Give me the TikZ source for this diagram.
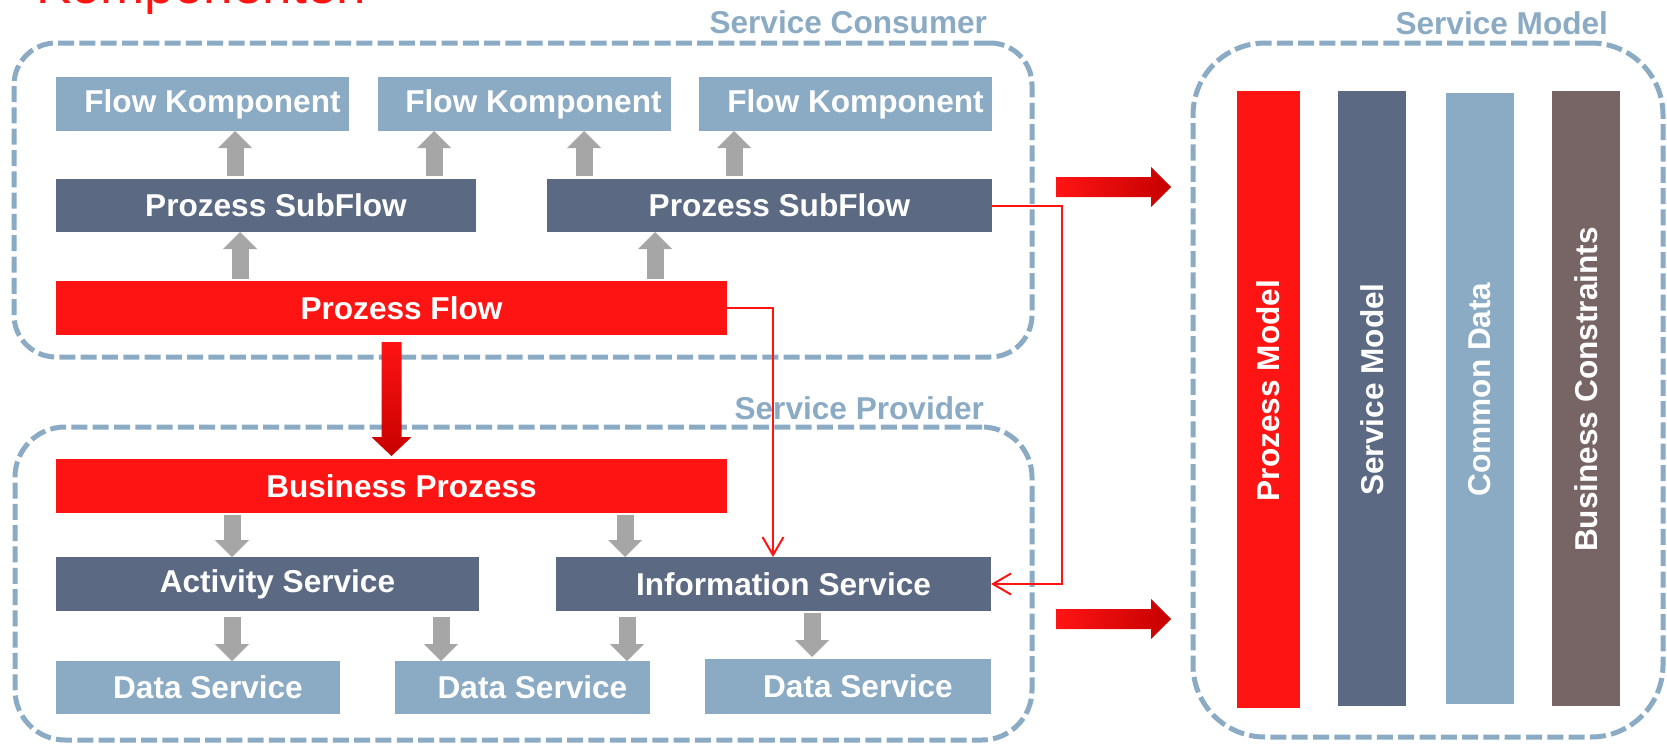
\documentclass[tikz,border=0pt]{standalone}
\usepackage{fontspec}
\setmainfont{Liberation Sans}
\usetikzlibrary{arrows.meta,calc}
\definecolor{cred}{RGB}{255,20,20}
\definecolor{cdark}{RGB}{198,0,0}
\definecolor{cslate}{RGB}{91,106,130}
\definecolor{clight}{RGB}{139,170,196}
\definecolor{cbrown}{RGB}{119,100,100}
\definecolor{cgray}{RGB}{166,166,166}
\begin{document}
\begin{tikzpicture}[x=1pt,y=-1pt,
  every node/.style={inner sep=0pt, outer sep=0pt},
  box/.style={rectangle, fill=#1, anchor=north west},
  lbl/.style={text=white, font=\fontsize{31.6pt}{38pt}\selectfont\bfseries},
  frame/.style={rectangle, draw=clight, line width=5pt, dash pattern=on 16pt off 5.3pt, anchor=north west},
  flbl/.style={text=clight, font=\fontsize{31.6pt}{38pt}\selectfont\bfseries, anchor=base east},
  garrow/.style={draw=cgray, line width=17pt, -{Triangle[length=17pt,width=34pt,line width=0pt]}},
  rline/.style={draw=cred, line width=2pt, -{Straight Barb[length=18pt,width=21pt]}}]
\useasboundingbox (0,0) rectangle (1667,744);

% title (cut off at the top)
\node[anchor=base west, text=cred, font=\fontsize{53pt}{60pt}\selectfont] (title) at (36,4) {Komponenten};

% frames
\node[frame, rounded corners=42pt, minimum width=1018pt, minimum height=314pt] (consumer) at (14,43) {};
\node[frame, rounded corners=50pt, minimum width=1017pt, minimum height=313pt] (provider) at (15,427) {};
\node[frame, rounded corners=72pt, minimum width=470pt, minimum height=694pt] (model) at (1193,43) {};
\node[flbl] (consumerl) at (987,33) {Service Consumer};
\node[flbl] (providerl) at (984,419) {Service Provider};
\node[flbl] (modell) at (1608,34) {Service Model};

% consumer boxes
\node[box=clight, minimum width=293pt, minimum height=54pt] (fk1) at (56,77) {};
\node[box=clight, minimum width=293pt, minimum height=54pt] (fk2) at (378,77) {};
\node[box=clight, minimum width=293pt, minimum height=54pt] (fk3) at (699,77) {};
\node[box=cslate, minimum width=420pt, minimum height=53pt] (sub1) at (56,179) {};
\node[box=cslate, minimum width=445pt, minimum height=53pt] (sub2) at (547,179) {};
\node[box=cred, minimum width=671pt, minimum height=54pt] (pflow) at (56,281) {};
\node[lbl] (fk1t) at ([xshift=10pt]fk1.center) {Flow Komponent};
\node[lbl] (fk2t) at ([xshift=9pt]fk2.center) {Flow Komponent};
\node[lbl] (fk3t) at ([xshift=10pt]fk3.center) {Flow Komponent};
\node[lbl] (sub1t) at ([xshift=10pt]sub1.center) {Prozess SubFlow};
\node[lbl] (sub2t) at ([xshift=10pt]sub2.center) {Prozess SubFlow};
\node[lbl] (pflowt) at ([xshift=10pt]pflow.center) {Prozess Flow};

% provider boxes
\node[box=cred, minimum width=671pt, minimum height=54pt] (bp) at (56,459) {};
\node[box=cslate, minimum width=423pt, minimum height=54pt] (act) at (56,557) {};
\node[box=cslate, minimum width=435pt, minimum height=54pt] (info) at (556,557) {};
\node[box=clight, minimum width=284pt, minimum height=53pt] (ds1) at (56,661) {};
\node[box=clight, minimum width=255pt, minimum height=53pt] (ds2) at (395,661) {};
\node[box=clight, minimum width=286pt, minimum height=55pt] (ds3) at (705,659) {};
\node[lbl] (bpt) at ([xshift=10pt]bp.center) {Business Prozess};
\node[lbl] (actt) at ([xshift=10pt]act.center) {Activity Service};
\node[lbl] (infot) at ([xshift=10pt]info.center) {Information Service};
\node[lbl] (ds1t) at ([xshift=10pt]ds1.center) {Data Service};
\node[lbl] (ds2t) at ([xshift=10pt]ds2.center) {Data Service};
\node[lbl] (ds3t) at ([xshift=10pt]ds3.center) {Data Service};

% model bars
\node[box=cred, minimum width=63pt, minimum height=617pt] (pm) at (1237,91) {};
\node[box=cslate, minimum width=68pt, minimum height=615pt] (sm) at (1338,91) {};
\node[box=clight, minimum width=68pt, minimum height=611pt] (cd) at (1446,93) {};
\node[box=cbrown, minimum width=68pt, minimum height=615pt] (bc) at (1552,91) {};
\node[lbl, rotate=90] (pmt) at ([yshift=9pt]pm.center) {Prozess Model};
\node[lbl, rotate=90] (smt) at ([yshift=9pt]sm.center) {Service Model};
\node[lbl, rotate=90] (cdt) at ([yshift=9pt]cd.center) {Common Data};
\node[lbl, rotate=90] (bct) at ([yshift=9pt]bc.center) {Business Constraints};

% gray block arrows
\draw[garrow, shorten <=3pt] (235,0 |- sub1.north) -- (235,0 |- fk1.south);
\draw[garrow, shorten <=3pt] (434,0 |- sub1.north) -- (434,0 |- fk2.south);
\draw[garrow, shorten <=3pt] (584,0 |- sub2.north) -- (584,0 |- fk2.south);
\draw[garrow, shorten <=3pt] (734,0 |- sub2.north) -- (734,0 |- fk3.south);
\draw[garrow, shorten <=2pt] (240,0 |- pflow.north) -- (240,0 |- sub1.south);
\draw[garrow, shorten <=2pt] (655,0 |- pflow.north) -- (655,0 |- sub2.south);
\draw[garrow, shorten <=2pt] (232,0 |- bp.south) -- (232,0 |- act.north);
\draw[garrow, shorten <=2pt] (625,0 |- bp.south) -- (625,0 |- info.north);
\draw[garrow, shorten <=6pt] (232,0 |- act.south) -- (232,0 |- ds1.north);
\draw[garrow, shorten <=6pt] (441,0 |- act.south) -- (441,0 |- ds2.north);
\draw[garrow, shorten <=6pt] (627,0 |- info.south) -- (627,0 |- ds2.north);
\draw[garrow, shorten <=2pt, shorten >=2pt] (812,0 |- info.south) -- (812,0 |- ds3.north);

% red block arrow down
\shade[top color=cred, bottom color=cdark] let \p1=([yshift=-7pt]pflow.south), \p2=([yshift=3pt]bp.north) in
  (\x1-10pt,\y1) -- (\x1+10pt,\y1) -- (\x1+10pt,\y2+19pt) -- (\x1+20pt,\y2+19pt) -- (\x1,\y2)
  -- (\x1-20pt,\y2+19pt) -- (\x1-10pt,\y2+19pt) -- cycle;

% red block arrows right
\shade[left color=cred, right color=cdark] (1056,177) -- (1151,177) -- (1151,167) -- (1171,187)
  -- (1151,207) -- (1151,197) -- (1056,197) -- cycle;
\shade[left color=cred, right color=cdark] (1056,609) -- (1151,609) -- (1151,599) -- (1171,619)
  -- (1151,639) -- (1151,629) -- (1056,629) -- cycle;

% thin red connectors
\draw[rline] (sub2.east) -- (1062,0 |- sub2.east) |- (info.east);
\draw[rline] (pflow.east) -| (773,0 |- info.north);
\end{tikzpicture}
\end{document}
